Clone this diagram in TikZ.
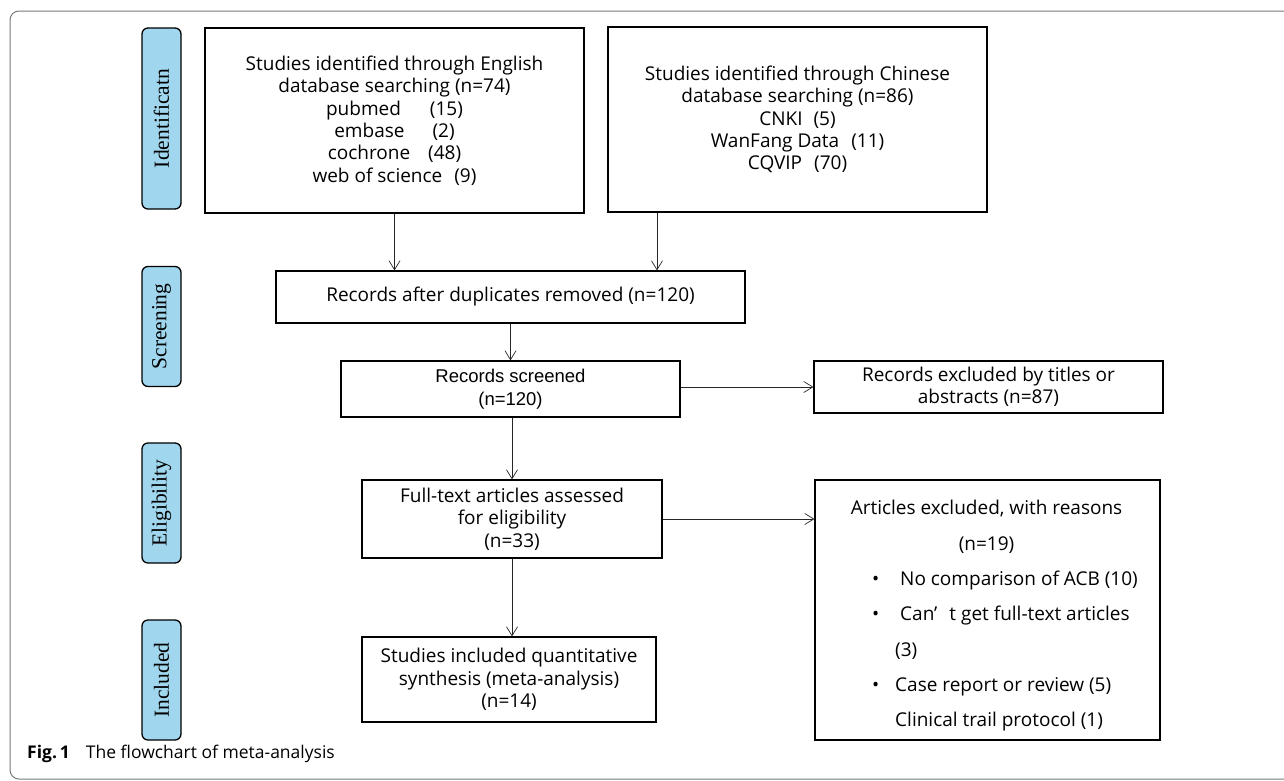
\documentclass[tikz,border=0pt]{standalone}
\usepackage{fontspec}
\setmainfont{Open Sans}
\newfontfamily\phasefont{Liberation Serif}
\newfontfamily\armfont{Liberation Sans}
\usetikzlibrary{arrows.meta,positioning}
\definecolor{phaseblue}{HTML}{A0D6EE}
\definecolor{framegray}{HTML}{7A7A7A}

\tikzset{
  box/.style={draw, line width=1.2pt, inner sep=0pt},
  txt/.style={align=center, font=\fontsize{19}{22.3}\selectfont},
  phase/.style={draw, fill=phaseblue, line width=1.3pt, rounded corners=6pt, rotate=90,
    minimum width=120pt, minimum height=39pt, inner sep=0pt, font=\phasefont\fontsize{21.5}{21.5}\selectfont},
  arr/.style={-{Straight Barb[length=9pt,width=11pt]}, line width=0.7pt, draw=black!85},
}

\begin{document}
\begin{tikzpicture}[x=1pt, y=-1pt]
    \clip (0,0) rectangle (1284,780);
    % outer frame
    \draw[framegray, line width=1pt, rounded corners=9pt] (1300,11) -- (10,11) -- (10,779) -- (1300,779);

    % Phase labels
    \node[phase, minimum width=181pt] (ident) at (161.5,118.5) {Identificatn};
    \node[phase] (screen) at (161.5,326.5) {Screening};
    \node[phase] (elig) at (161.5,503) {Eligibility};
    \node[phase] (inclph) at (161.5,680) {Included};

    % Identification
    \node[box, txt, minimum width=379pt, minimum height=185pt] (eng) at (394.5,120.5)
        {Studies identified through English\\database searching (n=74)\\pubmed\hspace{29pt}(15)\\embase\hspace{28pt}(2)\\cochrone\hspace{18pt}(48)\\web of science\hspace{12pt}(9)};
    \node[box, txt, minimum width=379pt, minimum height=185pt] (chn) at (797.5,119.5)
        {Studies identified through Chinese\\database searching (n=86)\\CNKI\hspace{11pt}(5)\\WanFang Data\hspace{12pt}(11)\\CQVIP\hspace{12pt}(70)};

    % Screening
    \node[box, txt, minimum width=469pt, minimum height=52pt] (dup) at (510.5,297)
        {Records after duplicates removed (n=120)};
    \node[box, txt, font=\armfont\fontsize{18.5}{23}\selectfont, minimum width=339pt, minimum height=56pt] (scr) at (510.5,389)
        {Records screened\\(n=120)};
    \node[box, txt, minimum width=349pt, minimum height=52pt] (excl) at (988.5,387)
        {Records excluded by titles or\\abstracts (n=87)};

    % Eligibility
    \node[box, txt, minimum width=300pt, minimum height=78pt] (full) at (512,519)
        {Full-text articles assessed\\for eligibility\\(n=33)};
    \node[box, minimum width=345pt, minimum height=260pt] (artexc) at (987.5,610) {};
    \node[txt, inner sep=0pt, font=\fontsize{19}{36}\selectfont] (arthead) at (986.5,527) {Articles excluded, with reasons\\(n=19)};
    \node[txt, inner sep=0pt, align=left, anchor=north west, font=\fontsize{19}{35.2}\selectfont] (reasons) at (870,571)
        {\makebox[30pt][l]{\hspace{2pt}\textbullet}No comparison of ACB (10)\\
         \makebox[30pt][l]{\hspace{2pt}\textbullet}Can’\hspace{12pt}t get full-text articles\\
         \hspace*{25pt}(3)\\
         \makebox[25pt][l]{\hspace{2pt}\textbullet}Case report or review (5)\\
         \hspace*{25pt}Clinical trail protocol (1)};

    % Included
    \node[box, txt, minimum width=294pt, minimum height=85pt] (incl) at (509,679.5)
        {Studies included quantitative\\synthesis (meta-analysis)\\(n=14)};

    % Arrows
    \draw[arr] (eng.south) -- (eng.south |- dup.north);
    \draw[arr] ([xshift=-140.5pt]chn.south) -- ([xshift=-140.5pt]chn.south |- dup.north);
    \draw[arr] (dup.south) -- (scr.north);
    \draw[arr] (scr.east |- excl.west) -- (excl.west);
    \draw[arr] ([xshift=1.5pt]scr.south) -- ([xshift=1.5pt]scr.south |- full.north);
    \draw[arr] (full.east) -- (full.east -| artexc.west);
    \draw[arr] (full.south) -- (full.south |- incl.north);

    % Caption
    \node[anchor=base west, inner sep=0pt, font=\fontsize{17.5}{20}\selectfont] (caption) at (27,758)
        {\textbf{Fig.\,1}\hspace{16pt}The flowchart of meta-analysis};
\end{tikzpicture}
\end{document}
